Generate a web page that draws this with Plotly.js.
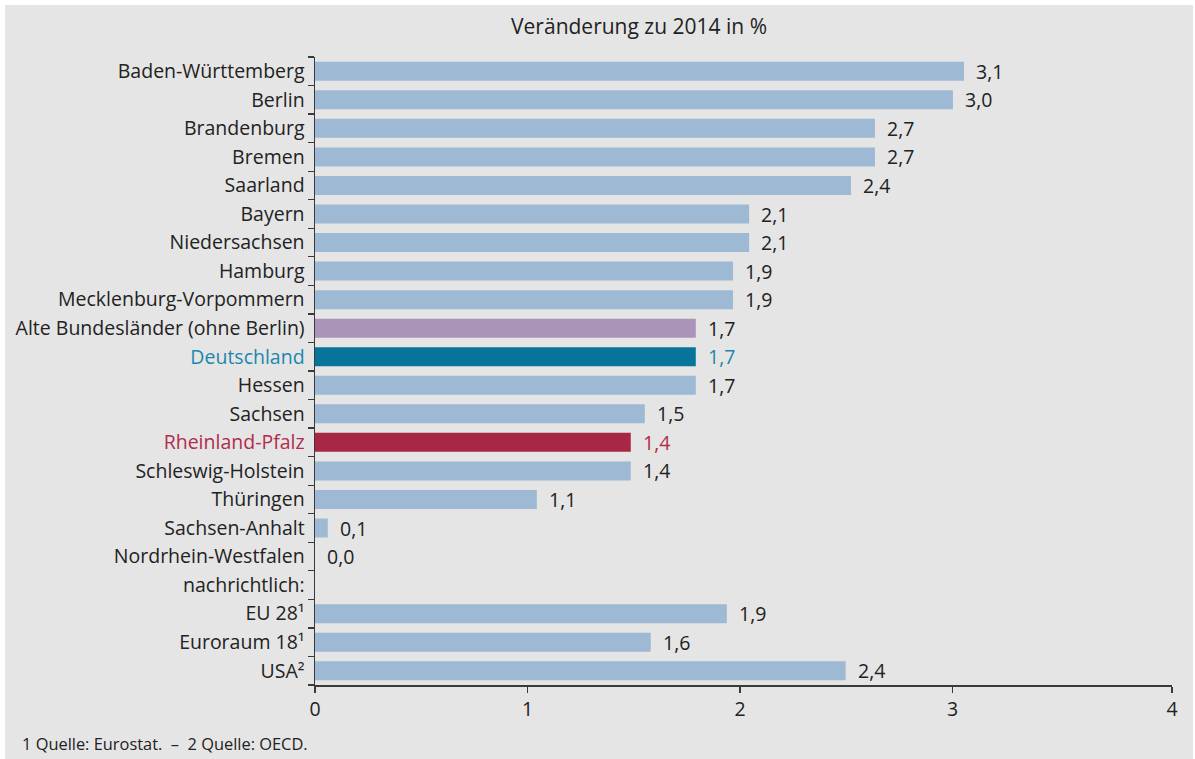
<!DOCTYPE html>
<html><head><meta charset="utf-8">
<script src="https://cdn.plot.ly/plotly-3.0.1.min.js"></script>
<style>
html,body{margin:0;padding:0;background:#ffffff;}
#chart{position:absolute;left:5px;top:5px;width:1188px;height:754px;}
</style>
</head><body><div id="chart"></div>
<script>
// ---- data ----
const categories = [
  "Baden-Württemberg", "Berlin", "Brandenburg", "Bremen", "Saarland", "Bayern",
  "Niedersachsen", "Hamburg", "Mecklenburg-Vorpommern", "Alte Bundesländer (ohne Berlin)",
  "Deutschland", "Hessen", "Sachsen", "Rheinland-Pfalz", "Schleswig-Holstein", "Thüringen",
  "Sachsen-Anhalt", "Nordrhein-Westfalen", "nachrichtlich:", "EU 28¹", "Euroraum 18¹", "USA²"
];
const values = [
  3.054, 3.002, 2.635, 2.635, 2.522, 2.043,
  2.043, 1.967, 1.967, 1.792,
  1.792, 1.792, 1.552, 1.486, 1.486, 1.044,
  0.06, 0.0, null, 1.938, 1.580, 2.497
];
const valueLabels = [
  "3,1", "3,0", "2,7", "2,7", "2,4", "2,1",
  "2,1", "1,9", "1,9", "1,7",
  "1,7", "1,7", "1,5", "1,4", "1,4", "1,1",
  "0,1", "0,0", "", "1,9", "1,6", "2,4"
];
const xTickVals = [0, 1, 2, 3, 4.033];
const xTickText = ["0", "1", "2", "3", "4"];
const chartTitle = "Veränderung zu 2014 in %";
const footnote = "1 Quelle: Eurostat.  –  2 Quelle: OECD.";

// ---- styles ----
const baseBar = "#9db9d3";
const baseText = "#222222";
const highlight = {
  "Alte Bundesländer (ohne Berlin)": {bar: "#aa94b8", text: baseText},
  "Deutschland": {bar: "#07759b", text: "#1d87ae"},
  "Rheinland-Pfalz": {bar: "#a82745", text: "#b02d4c"}
};
const barColors = categories.map(c => highlight[c] ? highlight[c].bar : baseBar);
const textColors = categories.map(c => highlight[c] ? highlight[c].text : baseText);
const tickText = categories.map((c, i) =>
  textColors[i] !== baseText ? '<span style="color:' + textColors[i] + '">' + c + '</span>' : c);

const FONT = "Open Sans, Noto Sans, sans-serif";
const FS = 19.5;

const trace = {
  type: "bar",
  orientation: "h",
  x: values,
  y: categories,
  marker: {color: barColors, line: {width: 0}},
  hoverinfo: "none"
};

const annotations = [];
categories.forEach((c, i) => {
  if (values[i] === null) return;
  annotations.push({
    x: values[i], y: c, xref: "x", yref: "y",
    text: valueLabels[i], showarrow: false,
    xanchor: "left", xshift: 10,
    font: {family: FONT, size: FS, color: textColors[i]}
  });
});
annotations.push({
  xref: "paper", yref: "paper", x: -0.3445, y: -0.093,
  xanchor: "left", yanchor: "middle",
  text: footnote, showarrow: false,
  font: {family: FONT, size: 16.4, color: baseText}
});

const layout = {
  width: 1188, height: 754,
  paper_bgcolor: "#e5e5e5",
  plot_bgcolor: "#e5e5e5",
  margin: {l: 310, r: 21, t: 52, b: 74, pad: 0},
  font: {family: FONT, color: baseText, size: FS},
  title: {
    text: chartTitle,
    x: 0.5337, xanchor: "center", xref: "container",
    y: 0.9708, yanchor: "middle", yref: "container",
    font: {family: FONT, size: 21, color: baseText}
  },
  bargap: 0.335,
  showlegend: false,
  xaxis: {
    range: [0, 4.033],
    tickvals: xTickVals, ticktext: xTickText,
    showgrid: false, zeroline: false,
    showline: true, linecolor: "#3a3a3a", linewidth: 1.5,
    ticks: "outside", ticklen: 6, tickwidth: 1.2, tickcolor: "#3a3a3a",
    tickfont: {family: FONT, size: FS, color: baseText},
    fixedrange: true
  },
  yaxis: {
    type: "category",
    categoryorder: "array", categoryarray: categories,
    range: [categories.length - 0.5, -0.5],
    tickvals: categories, ticktext: tickText,
    tickson: "boundaries",
    ticklabelstandoff: 5,
    showgrid: false, zeroline: false,
    showline: true, linecolor: "#3a3a3a", linewidth: 1.5,
    ticks: "outside", ticklen: 6, tickwidth: 1.2, tickcolor: "#3a3a3a",
    tickfont: {family: FONT, size: FS, color: baseText},
    fixedrange: true
  },
  annotations: annotations
};

Plotly.newPlot("chart", [trace], layout, {displayModeBar: false, staticPlot: true});
</script>
</body></html>
